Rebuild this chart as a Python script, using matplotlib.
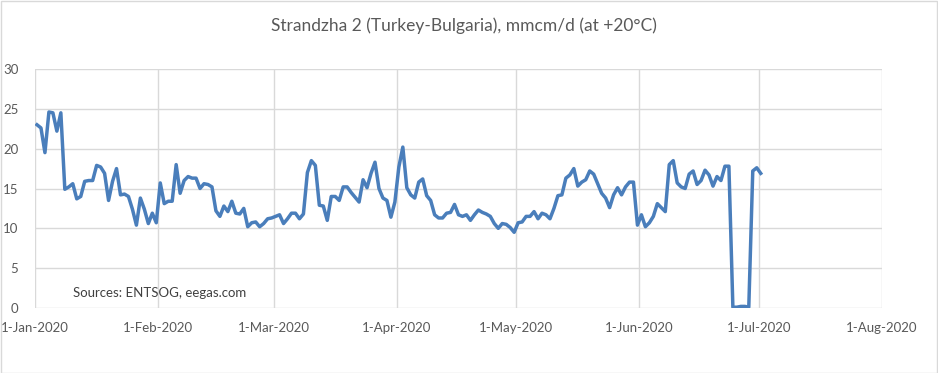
import matplotlib.pyplot as plt
import matplotlib.dates as mdates
from matplotlib.patches import Rectangle
import numpy as np
import pandas as pd

# Daily flows, mmcm/d, starting 1-Jan-2020
start_date = "2020-01-01"
flow = [
    23.0, 22.6, 19.5, 24.6, 24.5, 22.2, 24.5, 14.9, 15.2, 15.6,
    13.7, 14.0, 15.9, 16.0, 16.0, 17.9, 17.7, 16.9, 13.5, 15.9,
    17.5, 14.2, 14.3, 14.0, 12.4, 10.4, 13.8, 12.4, 10.6, 11.9,
    10.7, 15.7, 13.1, 13.4, 13.4, 18.0, 14.4, 16.0, 16.5, 16.3,
    16.3, 15.0, 15.6, 15.5, 15.2, 12.2, 11.5, 12.8, 12.1, 13.4,
    11.9, 11.8, 12.5, 10.2, 10.7, 10.8, 10.2, 10.6, 11.2, 11.3,
    11.5, 11.7, 10.6, 11.2, 11.9, 11.9, 11.2, 11.8, 17.0, 18.5,
    17.9, 12.9, 12.8, 11.0, 14.0, 14.0, 13.5, 15.2, 15.2, 14.5,
    13.9, 13.3, 16.1, 15.1, 16.9, 18.3, 15.0, 13.8, 13.5, 11.4,
    13.3, 17.7, 20.2, 15.1, 14.2, 13.8, 15.8, 16.2, 14.1, 13.5,
    11.7, 11.3, 11.3, 11.9, 12.0, 13.0, 11.7, 11.5, 11.7, 11.0,
    11.7, 12.3, 12.0, 11.8, 11.5, 10.6, 10.0, 10.6, 10.5, 10.1,
    9.5, 10.7, 10.8, 11.5, 11.5, 12.1, 11.2, 11.9, 11.7, 11.2,
    12.5, 14.1, 14.2, 16.3, 16.7, 17.5, 15.3, 15.8, 16.1, 17.2,
    16.8, 15.6, 14.4, 13.8, 12.6, 14.2, 15.1, 14.2, 15.2, 15.8,
    15.8, 10.4, 11.7, 10.2, 10.7, 11.5, 13.1, 12.6, 12.1, 18.0,
    18.5, 15.7, 15.2, 15.0, 16.8, 17.2, 15.5, 16.0, 17.3, 16.7,
    15.3, 16.5, 16.0, 17.8, 17.8, 0.1, 0.1, 0.2, 0.2, 0.1,
    17.2, 17.6, 16.9,
]
title = "Strandzha 2 (Turkey-Bulgaria), mmcm/d (at +20°C)"
source_note = "Sources: ENTSOG, eegas.com"
month_ticks = pd.date_range("2020-01-01", "2020-08-01", freq="MS")

# Excel-style date axis: each daily point sits in the middle of its day
dates = pd.date_range(start_date, periods=len(flow), freq="D") + pd.Timedelta(hours=12)

plt.rcParams['font.family'] = ['Lato', 'DejaVu Sans']

fig = plt.figure(figsize=(9.38, 3.73), dpi=100)
ax = fig.add_axes([35/938, 1 - 308/373, (882 - 35)/938, (308 - 69)/373])

ax.plot(dates, flow, color='#4a7ebb', linewidth=2.5, solid_joinstyle='round', zorder=3)

ax.set_xlim(month_ticks[0], month_ticks[-1])
ax.set_ylim(0, 30)
ax.set_yticks(np.arange(0, 31, 5))
ax.set_xticks(month_ticks)
ax.xaxis.set_major_formatter(mdates.DateFormatter('%-d-%b-%Y'))

ax.grid(True, color='#d9d9d9', linewidth=1.0)
for s in ax.spines.values():
    s.set_visible(False)
ax.tick_params(axis='both', length=0, labelsize=9.5, labelcolor='#595959')
ax.tick_params(axis='x', pad=10)
ax.tick_params(axis='y', pad=12)

fig.text(73/938, 1 - 293/373, source_note, ha='left', va='center', fontsize=9.5, color='#404040')
fig.text(464/938, 1 - 26/373, title, ha='center', va='center', fontsize=12.5, color='#595959')

fig.patches.append(Rectangle((0.5/938, 0.5/373), 1 - 1.5/938, 1 - 1.5/373, transform=fig.transFigure,
                             fill=False, edgecolor='#d9d9d9', linewidth=1))

fig.savefig('out.png', dpi=100)
